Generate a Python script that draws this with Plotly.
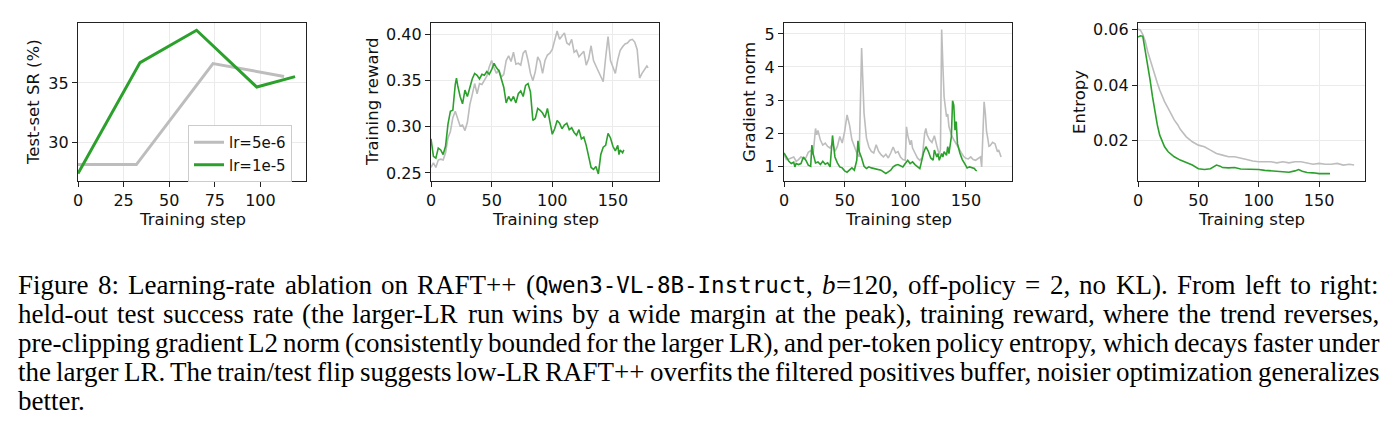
import plotly.graph_objects as go

W, H = 1395, 436

# ---------------- data ----------------
# Panel 1: test-set success rate
sr_steps_lo = [0, 32, 74, 113]
sr_lo = [28.16, 28.16, 36.63, 35.55]
sr_steps_hi = [0, 34, 65, 98, 119]
sr_hi = [27.4, 36.71, 39.42, 34.66, 35.53]

# Panel 2: training reward
rw_steps_lo = [0, 2, 4, 6, 8, 10, 12, 14, 16, 18, 20, 22, 24, 26, 28, 30, 32, 34, 36, 38,
               40, 42, 44, 46, 48, 50, 52, 54, 56, 58, 60, 62, 64, 66, 68, 70, 72, 74, 76, 78,
               80, 82, 84, 86, 88, 90, 92, 94, 96, 98, 100, 102, 104, 106, 108, 110, 112, 114,
               116, 118, 120, 122, 124, 126, 128, 130, 132, 134, 136, 138, 140, 142, 144, 146,
               148, 150, 152, 154, 156, 158, 160, 162, 164, 166, 168, 170, 172, 174, 176, 178, 179]
rw_lo = [0.256, 0.261, 0.256, 0.264, 0.265, 0.264, 0.272, 0.288, 0.295, 0.310, 0.317, 0.308,
         0.301, 0.302, 0.296, 0.305, 0.324, 0.335, 0.347, 0.336, 0.347, 0.346, 0.350, 0.355,
         0.365, 0.372, 0.364, 0.358, 0.362, 0.354, 0.357, 0.372, 0.377, 0.371, 0.381, 0.368,
         0.369, 0.367, 0.380, 0.383, 0.372, 0.358, 0.350, 0.360, 0.376, 0.371, 0.358, 0.372,
         0.378, 0.380, 0.384, 0.393, 0.404, 0.395, 0.398, 0.402, 0.391, 0.389, 0.395, 0.381,
         0.383, 0.376, 0.379, 0.382, 0.367, 0.374, 0.388, 0.372, 0.366, 0.360, 0.354, 0.349,
         0.375, 0.398, 0.372, 0.366, 0.358, 0.373, 0.383, 0.387, 0.390, 0.391, 0.394, 0.395,
         0.392, 0.384, 0.353, 0.358, 0.362, 0.366, 0.364]
rw_steps_hi = [0, 2, 4, 6, 8, 10, 12, 14, 16, 18, 20, 21, 22, 24, 26, 28, 30, 32, 34, 36, 38,
               40, 42, 44, 46, 48, 50, 52, 54, 56, 58, 60, 62, 64, 66, 68, 70, 72, 74, 76, 78,
               80, 82, 84, 86, 88, 90, 92, 94, 96, 98, 100, 102, 104, 106, 108, 110, 112, 114,
               116, 118, 120, 122, 124, 126, 128, 130, 132, 134, 136, 138, 140, 142, 144, 146,
               148, 150, 152, 154, 155, 156, 158, 159]
rw_hi = [0.287, 0.268, 0.266, 0.277, 0.275, 0.270, 0.279, 0.303, 0.317, 0.318, 0.346, 0.353,
         0.345, 0.333, 0.325, 0.340, 0.333, 0.343, 0.352, 0.358, 0.356, 0.352, 0.357, 0.356,
         0.360, 0.357, 0.362, 0.369, 0.364, 0.361, 0.351, 0.343, 0.326, 0.333, 0.328, 0.333,
         0.326, 0.336, 0.339, 0.333, 0.345, 0.347, 0.338, 0.307, 0.309, 0.320, 0.318, 0.315,
         0.310, 0.320, 0.306, 0.292, 0.298, 0.307, 0.304, 0.298, 0.302, 0.304, 0.297, 0.299,
         0.294, 0.291, 0.297, 0.287, 0.289, 0.280, 0.268, 0.256, 0.254, 0.257, 0.249, 0.270,
         0.278, 0.280, 0.293, 0.288, 0.279, 0.274, 0.280, 0.270, 0.275, 0.272, 0.275]

# Panel 3: gradient norm
gn_steps_lo = [0, 2, 4, 6, 8, 10, 12, 14, 16, 18, 20, 22, 24, 26, 27, 28, 30, 32, 34, 36, 38,
               40, 42, 44, 46, 48, 50, 52, 54, 56, 58, 60, 62, 64, 65, 66, 68, 70, 72, 74, 76,
               78, 80, 82, 84, 86, 88, 90, 92, 94, 96, 98, 100, 101, 102, 104, 105, 106, 108,
               110, 112, 114, 116, 117, 118, 120, 122, 124, 126, 128, 129, 130, 131, 132, 134,
               135, 136, 138, 140, 142, 144, 146, 148, 150, 152, 154, 156, 158, 160, 162, 163,
               165, 166, 167, 168, 169, 170, 172, 174, 176, 177, 179]
gn_lo = [1.35, 1.20, 1.22, 1.24, 1.28, 1.15, 1.20, 1.28, 1.22, 1.25, 1.42, 1.47, 1.35, 2.14,
         1.95, 2.08, 1.79, 1.64, 1.70, 1.60, 1.55, 1.69, 1.45, 1.60, 1.90, 1.70, 2.05, 2.55,
         2.25, 1.80, 1.58, 1.40, 1.28, 4.57, 3.60, 2.60, 1.85, 1.58, 1.45, 1.40, 1.65, 1.45,
         1.35, 1.28, 1.36, 1.25, 1.40, 1.58, 1.40, 1.44, 1.28, 1.20, 1.18, 2.19, 1.94, 1.65,
         1.79, 1.55, 1.40, 1.25, 1.18, 1.26, 2.00, 2.14, 1.95, 1.80, 1.72, 1.92, 1.62, 1.35,
         1.50, 5.13, 4.05, 3.10, 2.50, 2.58, 2.20, 1.95, 1.80, 1.65, 1.55, 1.42, 1.30, 1.24,
         1.22, 1.28, 1.20, 1.18, 1.23, 1.28, 0.98, 2.95, 2.60, 2.05, 1.85, 1.60, 1.62, 1.72,
         1.68, 1.44, 1.49, 1.28]
gn_steps_hi = [0, 2, 4, 6, 8, 9, 10, 12, 14, 16, 18, 20, 22, 23, 24, 26, 28, 30, 32, 34, 36,
               38, 39, 40, 41, 42, 44, 46, 48, 50, 52, 54, 56, 58, 60, 61, 62, 64, 66, 68, 70,
               72, 74, 76, 78, 80, 82, 84, 86, 88, 90, 92, 94, 96, 98, 100, 102, 104, 106, 108,
               110, 112, 113, 115, 117, 119, 121, 123, 124, 126, 127, 128, 130, 131, 132, 134,
               135, 136, 138, 139, 140, 141, 142, 143, 145, 147, 149, 151, 153, 155, 157, 158, 159]
gn_hi = [1.40, 1.28, 1.15, 1.08, 1.12, 0.98, 1.08, 1.05, 1.08, 1.28, 1.18, 1.03, 1.00, 1.64,
         1.38, 1.10, 1.13, 1.05, 1.15, 1.06, 1.10, 0.98, 1.64, 1.93, 1.59, 1.28, 1.10, 0.98,
         0.95, 0.86, 0.82, 0.88, 0.95, 0.88, 1.18, 1.77, 1.44, 1.25, 1.00, 0.93, 0.98, 0.95,
         0.93, 0.93, 0.90, 0.88, 0.83, 0.78, 0.83, 0.88, 0.98, 1.03, 1.05, 1.02, 0.98, 1.08,
         1.18, 1.08, 1.13, 1.05, 1.00, 0.93, 1.08, 1.40, 1.59, 1.45, 1.25, 1.18, 1.49, 1.28,
         1.38, 1.18, 1.38, 1.28, 1.44, 1.33, 1.59, 1.38, 1.89, 2.98, 2.85, 2.09, 2.35, 1.69,
         1.40, 1.20, 1.08, 0.95, 0.98, 0.95, 0.93, 0.88, 0.86]

# Panel 4: entropy
en_steps_lo = [0, 2, 4, 6, 8, 10, 12, 14, 16, 18, 20, 22, 25, 28, 30, 33, 35, 40, 45, 50, 55,
               60, 65, 70, 75, 80, 85, 90, 95, 100, 105, 110, 115, 120, 125, 130, 135, 140,
               145, 150, 155, 160, 165, 170, 175, 179]
en_lo = [0.0602, 0.0598, 0.0582, 0.0558, 0.0521, 0.0491, 0.0461, 0.0431, 0.0407, 0.0382,
         0.0361, 0.0340, 0.0316, 0.0292, 0.0274, 0.0256, 0.0240, 0.0213, 0.0195, 0.0183,
         0.0177, 0.0165, 0.0153, 0.0147, 0.0141, 0.0141, 0.0135, 0.0131, 0.0126, 0.0123,
         0.0123, 0.0123, 0.0119, 0.0123, 0.0119, 0.0123, 0.0123, 0.0119, 0.0114, 0.0117,
         0.0114, 0.0114, 0.0117, 0.0111, 0.0114, 0.0111]
en_steps_hi = [0, 2, 4, 6, 8, 10, 12, 14, 16, 18, 20, 22, 25, 28, 30, 35, 40, 45, 50, 55, 60,
               63, 65, 68, 70, 75, 80, 85, 90, 95, 100, 105, 110, 115, 120, 125, 130, 133, 136,
               140, 145, 150, 155, 159]
en_hi = [0.0573, 0.0578, 0.0576, 0.0527, 0.0479, 0.0419, 0.0358, 0.0298, 0.0256, 0.0219,
         0.0195, 0.0177, 0.0159, 0.0147, 0.0141, 0.0129, 0.0120, 0.0111, 0.0098, 0.0095,
         0.0098, 0.0105, 0.0111, 0.0107, 0.0102, 0.0101, 0.0102, 0.0097, 0.0097, 0.0095,
         0.0095, 0.0092, 0.0090, 0.0090, 0.0086, 0.0085, 0.0090, 0.0095, 0.0089, 0.0084,
         0.0083, 0.0080, 0.0080, 0.0080]

series_names = ["lr=5e-6", "lr=1e-5"]
y_titles = ["Test-set SR (%)", "Training reward", "Gradient norm", "Entropy"]
x_title = "Training step"

caption_lines = [
    "Figure 8: Learning-rate ablation on RAFT++ (Qwen3-VL-8B-Instruct, b=120, off-policy = 2, no KL). From left to right:",
    "held-out test success rate (the larger-LR run wins by a wide margin at the peak), training reward, where the trend reverses,",
    "pre-clipping gradient L2 norm (consistently bounded for the larger LR), and per-token policy entropy, which decays faster under",
    "the larger LR. The train/test flip suggests low-LR RAFT++ overfits the filtered positives buffer, noisier optimization generalizes",
    "better.",
]

# ---------------- style / layout ----------------
GRAY = "#bdbdbd"
GREEN = "#2ca02c"
TICKFONT = dict(family="DejaVu Sans", size=16, color="#111111")
LABELFONT = dict(family="DejaVu Sans", size=16.5, color="#111111")

panels_px = [(78, 306), (431, 659), (784, 1012), (1138, 1365)]
top_px, bot_px = 23, 181
yt_x_px = [33, 372, 749, 1079]

x_ranges = [[0, 125], [0, 188], [0, 188], [0, 188]]
y_ranges = [[26.78, 40.03], [0.2413, 0.4127], [0.553, 5.33], [0.00535, 0.0624]]
x_ticks = [[0, 25, 50, 75, 100], [0, 50, 100, 150], [0, 50, 100, 150], [0, 50, 100, 150]]
y_ticks = [[30, 35], [0.25, 0.30, 0.35, 0.40], [1, 2, 3, 4, 5], [0.02, 0.04, 0.06]]
y_fmt = ["d", ".2f", "d", ".2f"]

fig = go.Figure()

data = [
    (sr_steps_lo, sr_lo, sr_steps_hi, sr_hi, 3.0),
    (rw_steps_lo, rw_lo, rw_steps_hi, rw_hi, 1.6),
    (gn_steps_lo, gn_lo, gn_steps_hi, gn_hi, 1.6),
    (en_steps_lo, en_lo, en_steps_hi, en_hi, 1.6),
]

layout = {}
for i, (xl, yl, xh, yh, lw) in enumerate(data):
    sfx = "" if i == 0 else str(i + 1)
    fig.add_trace(go.Scatter(x=xl, y=yl, mode="lines", line=dict(color=GRAY, width=lw),
                             name=series_names[0], showlegend=(i == 0),
                             xaxis="x" + sfx, yaxis="y" + sfx))
    fig.add_trace(go.Scatter(x=xh, y=yh, mode="lines", line=dict(color=GREEN, width=lw),
                             name=series_names[1], showlegend=(i == 0),
                             xaxis="x" + sfx, yaxis="y" + sfx))
    common = dict(showline=True, linecolor="#222222", linewidth=1.2, mirror=True,
                  ticks="outside", ticklen=5, tickwidth=1.2, tickcolor="#222222",
                  showgrid=True, gridcolor="#ebebeb", gridwidth=1, zeroline=False,
                  tickfont=TICKFONT, automargin=False)
    x0, x1 = panels_px[i]
    layout["xaxis" + sfx] = dict(common, domain=[x0 / W, x1 / W], range=x_ranges[i],
                                 tickvals=x_ticks[i], anchor="y" + sfx)
    layout["yaxis" + sfx] = dict(common, domain=[1 - bot_px / H, 1 - top_px / H],
                                 range=y_ranges[i], tickvals=y_ticks[i],
                                 tickformat=y_fmt[i], anchor="x" + sfx)

annotations = []
for i in range(4):
    x0, x1 = panels_px[i]
    annotations.append(dict(text=x_title, x=(x0 + x1) / 2 / W, y=1 - 219 / H,
                            xref="paper", yref="paper", xanchor="center", yanchor="middle",
                            showarrow=False, font=LABELFONT))
    annotations.append(dict(text=y_titles[i], x=yt_x_px[i] / W, y=1 - 102 / H,
                            xref="paper", yref="paper", xanchor="center", yanchor="middle",
                            textangle=-90, showarrow=False, font=LABELFONT))

# ---------------- caption (justified, word by word) ----------------
TIMES = {
    ' ': 250, 'a': 444, 'b': 500, 'c': 444, 'd': 500, 'e': 444, 'f': 333, 'g': 500, 'h': 500,
    'i': 278, 'j': 278, 'k': 500, 'l': 278, 'm': 778, 'n': 500, 'o': 500, 'p': 500, 'q': 500,
    'r': 333, 's': 389, 't': 278, 'u': 500, 'v': 500, 'w': 722, 'x': 500, 'y': 500, 'z': 444,
    'A': 722, 'B': 667, 'C': 667, 'D': 722, 'E': 611, 'F': 556, 'G': 722, 'H': 722, 'I': 333,
    'J': 389, 'K': 722, 'L': 611, 'M': 889, 'N': 722, 'O': 722, 'P': 556, 'Q': 722, 'R': 667,
    'S': 556, 'T': 611, 'U': 722, 'V': 722, 'W': 944, 'X': 722, 'Y': 722, 'Z': 611,
    ',': 250, '.': 250, ':': 278, '-': 333, '(': 333, ')': 333, '/': 278, '+': 564, '=': 564,
}
CAP_SIZE = 27
MONO_SIZE = 22.5
SERIF = "Liberation Serif"
MONO = "DejaVu Sans Mono"


def pieces(word):
    if word == "(Qwen3-VL-8B-Instruct,":
        return [("(", "r"), ("Qwen3-VL-8B-Instruct", "m"), (",", "r")]
    if word == "b=120,":
        return [("b", "i"), ("=120,", "r")]
    return [(word, "r")]


def pw(text, style):
    if style == "m":
        return len(text) * 0.602 * MONO_SIZE
    return sum(TIMES.get(c, 500) for c in text) / 1000 * CAP_SIZE


cap_left, cap_right = 17, 1378
line_y = [285, 314, 343, 372, 401]
for li, line in enumerate(caption_lines):
    words = line.split(" ")
    wlist = [pieces(w) for w in words]
    widths = [sum(pw(t, s) for t, s in p) for p in wlist]
    if li < len(caption_lines) - 1 and len(words) > 1:
        gap = (cap_right - cap_left - sum(widths)) / (len(words) - 1)
    else:
        gap = TIMES[' '] / 1000 * CAP_SIZE
    x = cap_left
    for p, wd in zip(wlist, widths):
        px = x
        for t, s in p:
            fam = MONO if s == "m" else SERIF
            size = MONO_SIZE if s == "m" else CAP_SIZE
            txt = "<i>" + t + "</i>" if s == "i" else t
            annotations.append(dict(text=txt, x=px / W, y=1 - line_y[li] / H, xref="paper",
                                    yref="paper", xanchor="left", yanchor="middle",
                                    showarrow=False, borderpad=0,
                                    font=dict(family=fam, size=size, color="#000000")))
            px += pw(t, s)
        x += wd + gap

fig.update_layout(
    **layout,
    width=W, height=H,
    margin=dict(l=0, r=0, t=0, b=0),
    paper_bgcolor="white", plot_bgcolor="white",
    template="none",
    annotations=annotations,
    showlegend=True,
    legend=dict(x=188 / W, y=1 - 125 / H, xanchor="left", yanchor="top",
                bgcolor="white", bordercolor="#cccccc", borderwidth=1,
                font=dict(family="DejaVu Sans", size=15, color="#111111"),
                tracegroupgap=0, itemwidth=30),
)

fig.write_html("out.html")
